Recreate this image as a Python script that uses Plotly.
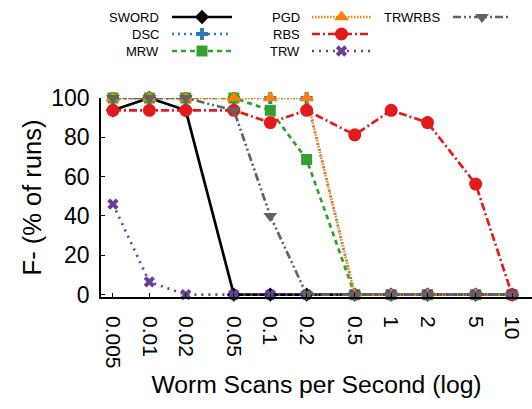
import plotly.graph_objects as go

W, H = 532, 409

# ---- data ----
scan_rates = [0.005, 0.01, 0.02, 0.05, 0.1, 0.2, 0.5, 1, 2, 5, 10]
tick_labels = ["0.005", "0.01", "0.02", "0.05", "0.1", "0.2", "0.5", "1", "2", "5", "10"]

sword = [93.75, 100, 93.75, 0, 0, 0, 0, 0, 0, 0, 0]
dsc = [100, 100, 100, 100, 100, 100, 0, 0, 0, 0, 0]
mrw = [100, 100, 100, 100, 93.75, 68.75, 0, 0, 0, 0, 0]
pgd = [100, 100, 100, 100, 100, 100, 0, 0, 0, 0, 0]
rbs = [93.75, 93.75, 93.75, 93.75, 87.5, 93.75, 81.25, 93.75, 87.5, 56.25, 0]
trw = [46, 6.5, 0, 0, 0, 0, 0, 0, 0, 0, 0]
trwrbs = [100, 100, 100, 93.75, 40, 0, 0, 0, 0, 0, 0]

series_names = ["SWORD", "DSC", "MRW", "PGD", "RBS", "TRW", "TRWRBS"]
series_values = [sword, dsc, mrw, pgd, rbs, trw, trwrbs]

# ---- styles ----
colors = ["#000000", "#2b7bba", "#33a02c", "#ff7f00", "#e31a1c", "#6a3d9a", "#636363"]
dashes = ["solid", "2px,4px", "5px,4px", "1.5px,1.5px", "8px,3px,2px,3px", "2px,5px", "8px,3px,2px,3px,2px,3px"]
symbols = ["diamond", "cross", "square", "triangle-up", "circle", "x", "triangle-down"]
msizes = [11, 10, 11, 13, 13, 10, 12]

FONT = "Liberation Sans"

fig = go.Figure()

for name, vals, c, d, s, ms in zip(series_names, series_values, colors, dashes, symbols, msizes):
    fig.add_trace(go.Scatter(
        x=scan_rates, y=vals, name=name, mode="lines+markers",
        line=dict(color=c, width=2.7, dash=d),
        marker=dict(symbol=s, size=ms, color=c, line=dict(width=0)),
        cliponaxis=False, showlegend=False,
    ))

# ---- custom legend (text left of sample, gnuplot style) ----
leg_rows = [17, 34, 51]
leg_cols = [(161, 172, 232), (302, 312, 371), (442, 453, 511)]
annotations = []
for i, (name, c, d, s, ms) in enumerate(zip(series_names, colors, dashes, symbols, msizes)):
    col = leg_cols[i // 3]
    row = leg_rows[i % 3]
    tx, x0, x1 = col
    fig.add_trace(go.Scatter(
        x=[x0, (x0 + x1) / 2, x1], y=[row, row, row], xaxis="x2", yaxis="y2",
        mode="lines+markers", showlegend=False, hoverinfo="skip",
        line=dict(color=c, width=2.7, dash=d),
        marker=dict(symbol=s, size=ms, color=c, opacity=[0, 1, 0], line=dict(width=0)),
        cliponaxis=False,
    ))
    annotations.append(dict(
        x=tx, y=row, xref="x2", yref="y2", text=name, showarrow=False,
        xanchor="right", yanchor="middle", font=dict(family=FONT, size=13, color="black"),
    ))

fig.update_layout(
    width=W, height=H,
    margin=dict(l=0, r=0, t=0, b=0),
    paper_bgcolor="white", plot_bgcolor="white",
    font=dict(family=FONT, color="black"),
    annotations=annotations,
    xaxis=dict(
        type="log", range=[-2.40, 1.165], domain=[101 / W, 1],
        tickvals=scan_rates, ticktext=tick_labels, tickangle=90,
        ticks="inside", ticklen=4, tickcolor="black", tickwidth=1,
        showline=True, linecolor="black", linewidth=1.5,
        showgrid=False, zeroline=False,
        tickfont=dict(family=FONT, size=21, color="black"),
        ticklabelstandoff=13,
        title=dict(text="Worm Scans per Second (log)", font=dict(family=FONT, size=24.7, color="black"), standoff=8),
        automargin=False, anchor="y",
    ),
    yaxis=dict(
        range=[-1.2, 100], domain=[1 - 297 / H, 1 - 98 / H],
        tickvals=[0, 20, 40, 60, 80, 100],
        ticks="inside", ticklen=4, tickcolor="black", tickwidth=1,
        showline=True, linecolor="black", linewidth=1.5,
        showgrid=False, zeroline=False,
        tickfont=dict(family=FONT, size=23, color="black"),
        ticklabelstandoff=5,
        title=dict(text="F- (% of runs)", font=dict(family=FONT, size=25.5, color="black"), standoff=2),
        automargin=False, anchor="x",
    ),
    xaxis2=dict(domain=[0, 1], range=[0, W], visible=False, anchor="y2", fixedrange=True),
    yaxis2=dict(domain=[1 - 70 / H, 1], range=[70, 0], visible=False, anchor="x2", fixedrange=True),
    showlegend=False,
)

fig.write_html("out.html")
